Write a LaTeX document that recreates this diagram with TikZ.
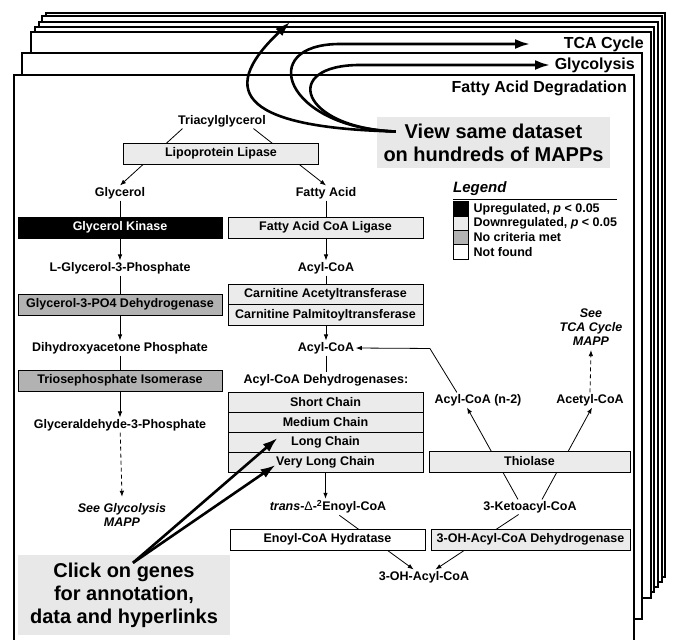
\documentclass[tikz,border=0pt]{standalone}
\usepackage{fontspec}
\setmainfont{Liberation Sans}
\usetikzlibrary{arrows.meta}

\definecolor{upreg}{gray}{0}
\definecolor{downreg}{gray}{0.92}
\definecolor{nocrit}{gray}{0.70}
\definecolor{notefill}{gray}{0.91}

\newcommand{\mappfont}{\fontsize{12.5}{14}\selectfont\bfseries}
\newcommand{\titlefont}{\fontsize{16}{18}\selectfont\bfseries}
\newcommand{\notefont}{\fontsize{20}{23}\selectfont\bfseries}

\begin{document}
\begin{tikzpicture}[
      x=1pt, y=-1pt,
      page/.style={draw, fill=white, line width=1.2pt},
      pagetitle/.style={anchor=east, inner sep=0pt, font=\titlefont},
      metab/.style={inner sep=1.5pt, font=\mappfont},
      gene/.style={draw, line width=0.8pt, fill=downreg, inner sep=0pt,
        minimum width=195pt, minimum height=21pt, font=\mappfont},
      wide gene/.style={gene, minimum width=204pt},
      rxn/.style={line width=0.8pt, -{Latex[length=6pt,width=4.5pt]}},
      link/.style={line width=0.8pt},
      note/.style={fill=notefill, align=center, font=\notefont},
      bigarrow/.style={line width=2.6pt, -{Latex[length=15pt,width=10pt]}},
      swatch/.style={draw, line width=0.8pt, minimum width=15pt,
        minimum height=14.3pt, inner sep=0pt},
    ]
    \useasboundingbox (0,0) rectangle (675,640);
    \clip (0,0) rectangle (675,640);

    % stack of MAPPs, back to front
    \foreach \l/\t/\r/\b in {46/13/665/577, 42/16/662/582, 39/22/658/587,
        35/27/654/592, 31/32/651/598, 22/53/642/619, 14/75/634/660}
      \draw[page] (\l,\t) rectangle (\r,\b);
    \node[pagetitle] (tcatitle) at (644,44) {TCA Cycle};
    \node[pagetitle] (glytitle) at (635,65) {Glycolysis};
    \node[pagetitle] (fadtitle) at (627,88) {Fatty Acid Degradation};

    % metabolites
    \node[metab] (tag) at (222,121) {Triacylglycerol};
    \node[metab] (gly) at (120,193) {Glycerol};
    \node[metab] (fa) at (326,193) {Fatty Acid};
    \node[metab] (lgp) at (120,268) {L-Glycerol-3-Phosphate};
    \node[metab] (dhap) at (120,348) {Dihydroxyacetone Phosphate};
    \node[metab] (gap) at (120,425) {Glyceraldehyde-3-Phosphate};
    \node[metab, font={\mappfont\itshape}, align=center] (seegly) at (122,515) {See Glycolysis\\MAPP};
    \node[metab] (acyla) at (326,268) {Acyl-CoA};
    \node[metab] (acylb) at (326,348) {Acyl-CoA};
    \node[metab] (dhlabel) at (326,380) {Acyl-CoA Dehydrogenases:};
    \node[metab] (enoyl) at (328,507) {{\itshape trans}-{\mdseries Δ}-\textsuperscript{2}Enoyl-CoA};
    \node[metab] (ohacyl) at (424,577) {3-OH-Acyl-CoA};
    \node[metab] (acyln) at (478,400) {Acyl-CoA (n-2)};
    \node[metab] (acetyl) at (590,400) {Acetyl-CoA};
    \node[metab, font={\mappfont\itshape}, align=center] (seetca) at (591,327) {See\\TCA Cycle\\MAPP};
    \node[metab] (keto) at (530,507) {3-Ketoacyl-CoA};

    % reactions (gene boxes go on top)
    \draw[rxn] ([xshift=6pt]tag.south west) -- (gly.north);
    \draw[rxn] ([xshift=-14pt]tag.south east) -- (fa.north);
    \draw[rxn] (gly) -- (lgp);
    \draw[rxn] (lgp) -- (dhap);
    \draw[rxn] (dhap) -- (gap);
    \draw[rxn, dash pattern=on 4pt off 3pt] (gap) -- ([yshift=5pt]seegly.north);
    \draw[rxn] (fa) -- (acyla);
    \draw[rxn] (acyla) -- (acylb);
    \draw[link] (acylb) -- (dhlabel);
    \draw[rxn] (enoyl) -- (ohacyl);
    \draw[rxn] (keto) -- (ohacyl);
    \draw[rxn] ([xshift=-12pt]keto.north) -- ([xshift=-11pt]acyln.south);
    \draw[rxn] ([xshift=12pt]keto.north) -- ([xshift=2pt]acetyl.south);
    \draw[rxn, dash pattern=on 4pt off 3pt] (acetyl.north) -- ([yshift=-3pt]seetca.south);
    \draw[rxn] ([xshift=24pt]acyln.north west) -- ++(-27,-44) -- (acylb.east);

    % genes
    \node[gene] (lipase) at (221,153.5) {Lipoprotein Lipase};
    \node[wide gene, fill=upreg, text=white] (gk) at (120,227.5) {Glycerol Kinase};
    \node[wide gene, fill=nocrit] (g3pdh) at (120,304.5) {Glycerol-3-PO4 Dehydrogenase};
    \node[wide gene, fill=nocrit] (tpi) at (120,380.5) {Triosephosphate Isomerase};
    \node[gene] (facl) at (325.5,227.5) {Fatty Acid CoA Ligase};
    \node[gene] (cat) at (325.5,294.5) {Carnitine Acetyltransferase};
    \node[gene] (cpt) at (325.5,315) {Carnitine Palmitoyltransferase};
    \node[gene, minimum height=20pt] (scad) at (325.5,402) {Short Chain};
    \node[gene, minimum height=20pt] (mcad) at (325.5,422) {Medium Chain};
    \node[gene, minimum height=20pt] (lcad) at (325.5,442) {Long Chain};
    \node[gene, minimum height=20pt] (vlcad) at (325.5,462) {Very Long Chain};
    \node[gene, fill=white] (ech) at (327.5,539.5) {Enoyl-CoA Hydratase};
    \node[gene, minimum width=201pt] (thio) at (529.5,461.5) {Thiolase};
    \node[gene, minimum width=199pt] (hadh) at (530.5,539.5) {3-OH-Acyl-CoA Dehydrogenase};
    \draw[rxn] (vlcad.south) -- (vlcad.south |- enoyl.north);

    % legend
    \node[anchor=south west, inner sep=0pt, font={\fontsize{15}{17}\selectfont\bfseries\itshape}] (legend) at (453,196) {Legend};
    \draw[link] (453,199) -- (617,199);
    \foreach \c/\txt [count=\i] in {upreg/{Upregulated, \textit{p} < 0.05},
        downreg/{Downregulated, \textit{p} < 0.05}, nocrit/No criteria met, white/Not found} {
      \node[swatch, fill=\c] (key\i) at (460.5,194.6+14.3*\i) {};
      \node[anchor=west, inner sep=0pt, font=\mappfont] (keytext\i) at ([xshift=5pt]key\i.east) {\txt};
    }

    % callouts
    \node[note, minimum width=233pt, minimum height=51pt] (view) at (493.5,142.5) {View same dataset\\on hundreds of MAPPs};
    \node[note, minimum width=212pt, minimum height=80pt] (click) at (124,595) {Click on genes\\for annotation,\\data and hyperlinks};

    \coordinate (toptip) at (290,22);
    \coordinate (tcatip) at (530,44);
    \coordinate (glytip) at (550,65);
    \draw[bigarrow] ([xshift=19pt,yshift=11pt]view.west) .. controls (250,128) and (212,95) .. (toptip);
    \draw[bigarrow] ([xshift=19pt,yshift=11pt]view.west) .. controls (285,128) and (255,44) .. (340,44) -- (tcatip);
    \draw[bigarrow] ([xshift=19pt,yshift=11pt]view.west) .. controls (300,128) and (280,65) .. (360,65) -- (glytip);
    \draw[bigarrow] ([xshift=9pt,yshift=-8pt]click.north) -- ([xshift=-48pt,yshift=4pt]lcad.center);
    \draw[bigarrow] ([xshift=9pt,yshift=-8pt]click.north) -- ([xshift=-50pt,yshift=-3pt]vlcad.center);
\end{tikzpicture}
\end{document}
